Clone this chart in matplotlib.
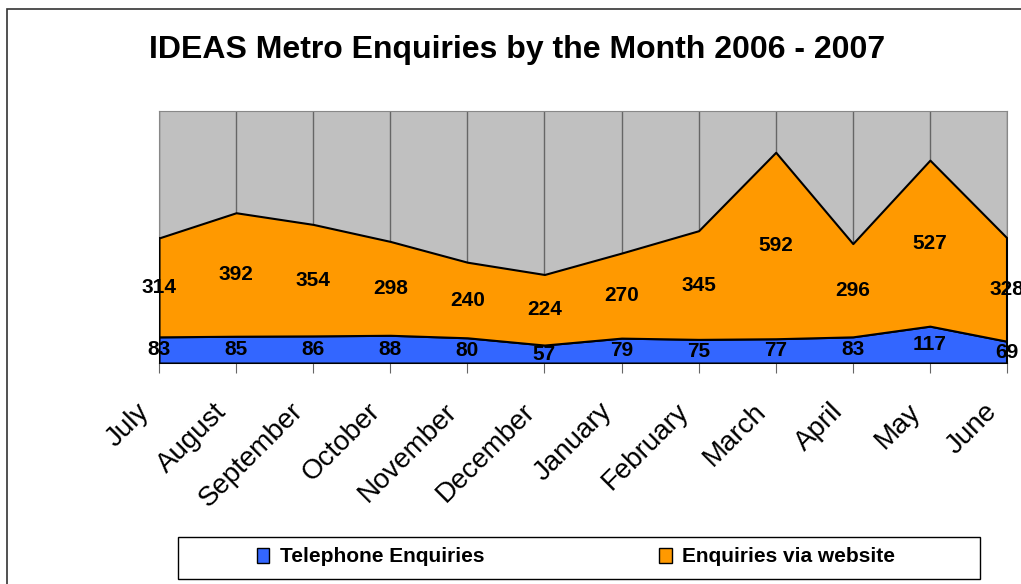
import numpy as np
import matplotlib.pyplot as plt
import matplotlib.transforms as mtransforms
from matplotlib.patches import Rectangle

plt.rcParams['font.family'] = ['Liberation Sans', 'DejaVu Sans']

months = ['July', 'August', 'September', 'October', 'November', 'December',
          'January', 'February', 'March', 'April', 'May', 'June']
telephone = [83, 85, 86, 88, 80, 57, 79, 75, 77, 83, 117, 69]
website = [314, 392, 354, 298, 240, 224, 270, 345, 592, 296, 527, 328]

W, H = 1021, 584
fig = plt.figure(figsize=(W / 100, H / 100), dpi=100)
fig.patch.set_facecolor('white')

# outer chart border (only left/top visible in the picture)
fig.add_artist(Rectangle((7 / W, -0.1), 1.2, 1 - 9 / H + 0.1, transform=fig.transFigure,
                         fill=False, edgecolor='#333333', linewidth=1.2))

ax = fig.add_axes([159 / W, 1 - 363 / H, (1007 - 159) / W, (363 - 111) / H])
ax.set_facecolor('#C0C0C0')

x = np.arange(len(months))
tel = np.array(telephone)
web = np.array(website)
top = tel + web

ax.fill_between(x, 0, tel, facecolor='#3366FF', edgecolor='black', linewidth=1.5, zorder=3)
ax.fill_between(x, tel, top, facecolor='#FF9900', edgecolor='black', linewidth=1.5, zorder=3)
ax.plot([x[0], x[0]], [0, top[0]], color='black', lw=1.5, zorder=4)
ax.plot([x[-1], x[-1]], [0, top[-1]], color='black', lw=1.5, zorder=4)

for xi in x:
    ax.axvline(xi, color='#666666', lw=1, zorder=1)

for xi, t, w in zip(x, tel, web):
    ax.text(xi, t / 2, str(t), ha='center', va='center', fontsize=15,
            fontweight='bold', zorder=5, clip_on=False)
    ax.text(xi, t + w / 2, str(w), ha='center', va='center', fontsize=15,
            fontweight='bold', zorder=5, clip_on=False)

ax.set_xlim(x[0], x[-1])
ax.set_ylim(0, 800)
ax.set_yticks([])
ax.set_xticks(x)
ax.set_xticklabels(months, rotation=45, ha='right', rotation_mode='anchor', fontsize=20)
ax.tick_params(axis='x', direction='out', length=7, color='#666666', pad=12)
shift = mtransforms.ScaledTranslation(-0.23, -0.09, fig.dpi_scale_trans)
for lab in ax.get_xticklabels():
    lab.set_transform(lab.get_transform() + shift)
for side in ['top', 'right', 'left']:
    ax.spines[side].set_color('#888888')
ax.spines['bottom'].set_color('#666666')

fig.text(517 / W, 1 - 50 / H, 'IDEAS Metro Enquiries by the Month 2006 - 2007',
         ha='center', va='center', fontsize=23, fontweight='bold')

# legend
fig.add_artist(Rectangle((178 / W, 1 - 579 / H), (980 - 178) / W, (579 - 537) / H,
                         transform=fig.transFigure, fill=False, edgecolor='black', lw=1))
handles = [Rectangle((0, 0), 1, 1, facecolor='#3366FF', edgecolor='black'),
           Rectangle((0, 0), 1, 1, facecolor='#FF9900', edgecolor='black')]
fig.legend(handles, ['Telephone Enquiries', 'Enquiries via website'], ncol=2,
           loc='center', bbox_to_anchor=(576 / W, 1 - 557 / H), frameon=False,
           prop={'weight': 'bold', 'size': 15}, handlelength=0.6, handleheight=0.7,
           handletextpad=0.5, columnspacing=8.4)

fig.savefig('out.png', dpi=100)
